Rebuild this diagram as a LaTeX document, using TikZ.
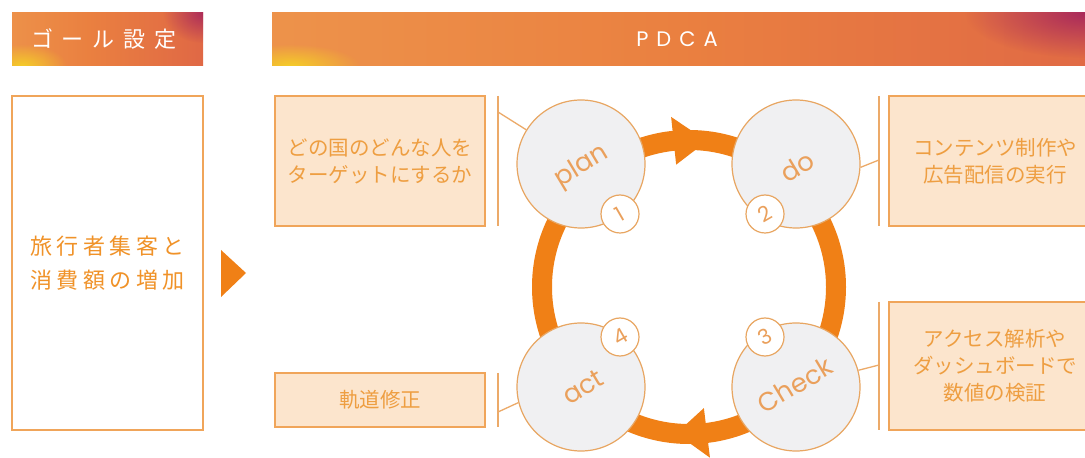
\documentclass[tikz,border=0pt]{standalone}
\usepackage{fontspec}
\newfontfamily\jp{Noto Sans CJK JP}
\newfontfamily\pop{Poppins}
\usetikzlibrary{calc,fadings}
\definecolor{boxfill}{RGB}{252,229,205}
\definecolor{boxline}{RGB}{240,165,90}
\definecolor{jtxt}{RGB}{238,158,65}
\definecolor{gtxt}{RGB}{240,146,40}
\definecolor{cfill}{RGB}{240,240,242}
\definecolor{cline}{RGB}{232,166,98}
\definecolor{ctext}{RGB}{234,160,92}
\definecolor{lline}{RGB}{236,170,105}
\definecolor{ringc}{RGB}{240,128,22}
\definecolor{h1}{RGB}{240,165,85}
\definecolor{h2}{RGB}{234,128,64}
\definecolor{h3}{RGB}{222,100,70}
\definecolor{h4}{RGB}{175,45,90}
\definecolor{hy}{RGB}{245,205,40}
\definecolor{hp}{RGB}{160,30,95}
\pgfdeclarehorizontalshading{hdrA}{100bp}{color(0bp)=(h1); color(45bp)=(h2); color(80bp)=(h3); color(100bp)=(h4)}
\pgfdeclarehorizontalshading{hdrB}{100bp}{color(0bp)=(h1); color(50bp)=(h2); color(82bp)=(h3); color(100bp)=(h4)}
\tikzfading[name=glow, inner color=transparent!0, outer color=transparent!100]
\begin{document}
\begin{tikzpicture}[x=1pt,y=1pt,
  box/.style={draw=boxline, line width=1.8pt, fill=boxfill, inner sep=0pt},
  cyc/.style={circle, draw=cline, line width=1.2pt, fill=cfill, minimum size=128pt, inner sep=0pt},
  badge/.style={circle, draw=cline, line width=1.2pt, fill=white, minimum size=38pt, inner sep=0pt, font=\pop\fontsize{21}{21}\selectfont, text=ctext},
  lab/.style={font=\pop\fontsize{26}{26}\selectfont, text=ctext, rotate=31},
  jtext/.style={font=\jp\fontsize{20.5}{27}\selectfont, text=jtxt, align=center},
  conn/.style={draw=lline, line width=1.3pt},
  ring/.style={draw=ringc, line width=20pt},
  tip/.style={fill=ringc}
]
\clip (0,0) rectangle (1085,458);
\fill[white] (0,0) rectangle (1085,458);

% headers
\begin{scope}
\clip (12,392) rectangle (203,445);
\shade[shading=hdrA] (12,392) rectangle (203,445);
\fill[hy, path fading=glow, fit fading] (22,392) ellipse (45 and 22);
\fill[hp, path fading=glow, fit fading, opacity=0.8] (203,445) ellipse (40 and 30);
\end{scope}
\node[text=white, font=\jp\fontsize{22}{22}\selectfont] (goalhdr) at (104,419) {ゴ\hspace{9pt}ー\hspace{9pt}ル\hspace{9pt}設\hspace{9pt}定};

\begin{scope}
\clip (272,392) rectangle (1085,445);
\shade[shading=hdrB] (272,392) rectangle (1085,445);
\fill[hy, path fading=glow, fit fading] (290,392) ellipse (70 and 22);
\fill[hp, path fading=glow, fit fading, opacity=0.85] (1085,445) ellipse (120 and 45);
\end{scope}
\node[text=white, font=\pop\fontsize{21}{21}\selectfont] (pdcahdr) at (677,419) {P\hspace{8pt}D\hspace{8pt}C\hspace{8pt}A};

% goal box
\node[draw=boxline, line width=1.8pt, fill=white, minimum width=191pt, minimum height=334pt, inner sep=0pt,
  font=\jp\fontsize{22}{34}\selectfont, text=gtxt, align=center] (goal) at (107.5,195)
  {旅\hspace{4.5pt}行\hspace{4.5pt}者\hspace{4.5pt}集\hspace{4.5pt}客\hspace{4.5pt}と\\消\hspace{4.5pt}費\hspace{4.5pt}額\hspace{4.5pt}の\hspace{4.5pt}増\hspace{4.5pt}加};
\fill[ringc] (246,185) -- (221,208) -- (221,161) -- cycle;

% ring
\coordinate (C) at (689,171);
\draw[ring] (C) circle (147);
\fill[tip] ($(C)+(96:123)$) -- ($(C)+(83:147)$) -- ($(C)+(96:171)$) -- cycle;
\fill[tip] ($(C)+(277:122)$) -- ($(C)+(265:147)$) -- ($(C)+(277:172)$) -- cycle;

% cycle circles
\node[cyc] (plan) at (581,294) {};
\node[cyc] (do) at (796,294) {};
\node[cyc] (check) at (796,71) {};
\node[cyc] (act) at (581,71) {};
\node[lab] (planl) at (582,291) {plan};
\node[lab] (dol) at (797,291) {do};
\node[lab] (checkl) at (795,73) {Check};
\node[lab] (actl) at (583,71) {act};
\node[badge] (b1) at (620,244) {\rotatebox{30}{1}};
\node[badge] (b2) at (765,244) {\rotatebox{30}{2}};
\node[badge] (b3) at (765,121) {\rotatebox{30}{3}};
\node[badge] (b4) at (620,121) {\rotatebox{30}{4}};

% side boxes
\node[box, jtext, minimum width=210pt, minimum height=130pt] (planbox) at (380,297) {どの国のどんな人を\\ターゲットにするか};
\node[box, jtext, minimum width=212pt, minimum height=130pt] (dobox) at (995,297) {コンテンツ制作や\\広告配信の実行};
\node[box, jtext, minimum width=212pt, minimum height=128pt] (checkbox) at (995,92) {アクセス解析や\\ダッシュボードで\\数値の検証};
\node[box, jtext, minimum width=210pt, minimum height=54pt] (actbox) at (380,58) {軌道修正};

% bracket lines and connectors
\coordinate (pa) at (498,362); \coordinate (pb) at (498,232); \coordinate (pj) at (498,346);
\coordinate (da) at (879,362); \coordinate (db) at (879,232); \coordinate (dj) at (879,298);
\coordinate (ca) at (879,156); \coordinate (cb) at (879,28); \coordinate (cj) at (879,93);
\coordinate (aa) at (498,85); \coordinate (ab) at (498,31); \coordinate (aj) at (498,46);
\draw[conn] (pa) -- (pb); \draw[conn] (pj) -- (plan.148);
\draw[conn] (da) -- (db); \draw[conn] (dj) -- (do.-3);
\draw[conn] (ca) -- (cb); \draw[conn] (cj) -- (check.15);
\draw[conn] (aa) -- (ab); \draw[conn] (aj) -- (act.194);
\end{tikzpicture}
\end{document}
